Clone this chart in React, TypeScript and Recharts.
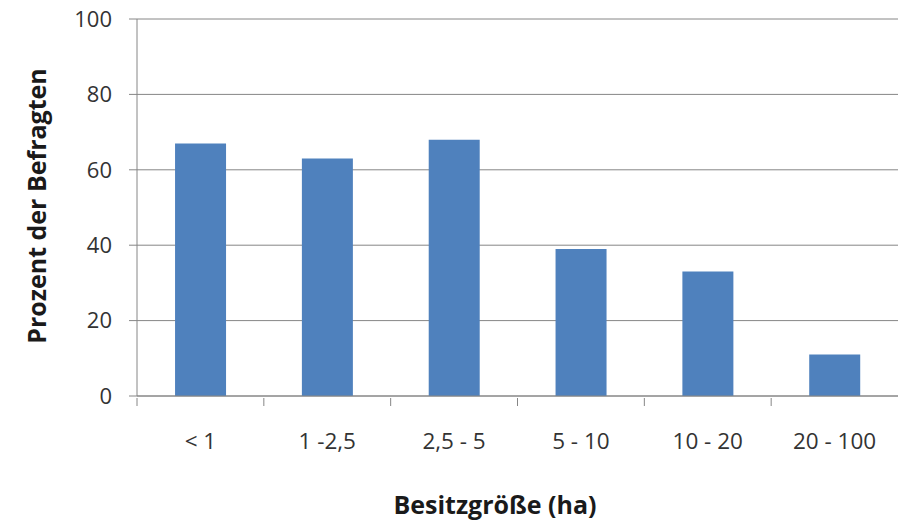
import { Bar, BarChart, CartesianGrid, XAxis, YAxis } from 'recharts';

const categories = ['< 1', '1 -2,5', '2,5 - 5', '5 - 10', '10 - 20', '20 - 100'];
const percentValues = [67, 63, 68, 39, 33, 11];
const yTicks = [0, 20, 40, 60, 80, 100];

const data = categories.map((name, i) => ({ name, value: percentValues[i] }));

const FONT = '"Open Sans", sans-serif';
const BAND = 761 / categories.length;

const CategoryTick = ({ x, y, payload }) => {
  return (
    <g>
      <line x1={x - BAND / 2} x2={x - BAND / 2} y1={y - 8} y2={y} stroke="#868686" strokeWidth={1} />
      <text x={x} y={y + 43} textAnchor="middle" fontFamily={FONT} fontSize={22.5} fill="#333">
        {payload.value}
      </text>
    </g>
  );
};

const YTitle = () => (
  <text
    x={46}
    y={206}
    transform="rotate(-90 46 206)"
    textAnchor="middle"
    fontFamily={FONT}
    fontSize={25}
    fontWeight={700}
    fill="#1a1a1a"
  >
    Prozent der Befragten
  </text>
);

const XTitle = () => (
  <text x={495} y={514} textAnchor="middle" fontFamily={FONT} fontSize={25} fontWeight={700} fill="#1a1a1a">
    Besitzgröße (ha)
  </text>
);

const App = () => {
  return (
    <div style={{ position: 'absolute', left: 0, top: 0, background: '#fff' }}>
      <BarChart
        width={898}
        height={523}
        data={data}
        margin={{ top: 19, right: 0, bottom: 0, left: 0 }}
        barCategoryGap="30%"
      >
        <CartesianGrid vertical={false} stroke="#868686" />
        <XAxis
          dataKey="name"
          height={127}
          axisLine={{ stroke: '#868686' }}
          tickLine={false}
          tick={<CategoryTick />}
          interval={0}
          tickSize={8}
          label={<XTitle />}
        />
        <YAxis
          width={137}
          domain={[0, 100]}
          ticks={yTicks}
          axisLine={{ stroke: '#868686' }}
          tickLine={{ stroke: '#868686' }}
          tickSize={8}
          tickMargin={17}
          tick={{ fontFamily: FONT, fontSize: 22, fill: '#333' }}
          label={<YTitle />}
        />
        <Bar dataKey="value" fill="#4F81BD" isAnimationActive={false} />
      </BarChart>
    </div>
  );
};

export default App;
